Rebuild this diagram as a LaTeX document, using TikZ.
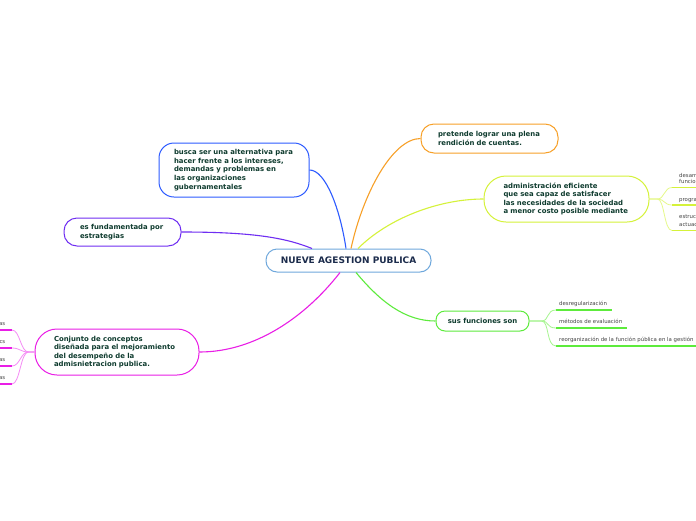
\documentclass[tikz,border=0pt]{standalone}
\usepackage{fontspec}
\setmainfont{DejaVu Sans}
\definecolor{cblue}{HTML}{2D5BFF}
\definecolor{corange}{HTML}{F7A028}
\definecolor{cyellow}{HTML}{D5F23A}
\definecolor{cyellowl}{HTML}{E6F98A}
\definecolor{cpurple}{HTML}{6F2EF2}
\definecolor{cmagenta}{HTML}{E91EE6}
\definecolor{cmagental}{HTML}{F58CF5}
\definecolor{cgreen}{HTML}{5DEB3C}
\definecolor{cgreenl}{HTML}{A6F590}
\definecolor{ccentral}{HTML}{6FA8DC}
\definecolor{nodetxt}{HTML}{0E3B2E}
\definecolor{centtxt}{HTML}{1C2C4C}
\definecolor{subtxt}{HTML}{444444}
\newcommand{\nodefont}{\fontsize{6.9}{8.6}\selectfont\bfseries}
\newcommand{\centfont}{\fontsize{9}{11}\selectfont\bfseries}
\newcommand{\subfont}{\fontsize{5.4}{6.5}\selectfont}
\tikzset{
  topic/.style={draw, line width=1pt, fill=white, text=nodetxt, font=\nodefont, align=left, inner sep=0pt},
  subtext/.style={font=\subfont, text=subtxt, inner sep=0pt},
  link/.style={line width=1.1pt},
  uline/.style={line width=1.8pt},
  thin/.style={line width=0.8pt}
}
\begin{document}
\begin{tikzpicture}[x=1pt,y=-1pt]
\fill[white] (0,0) rectangle (696,520);
\clip (0,0) rectangle (696,520);

% central
\node[draw=ccentral, line width=1pt, fill=white, rounded corners=11pt, minimum width=165pt, minimum height=23pt, inner sep=0pt, text=centtxt, font=\centfont] (c) at (348.5,260.5) {NUEVE AGESTION PUBLICA};

% main topics
\node[topic, draw=cblue, rounded corners=15pt, minimum width=150pt, minimum height=54pt, text width=120pt] (blue) at (234,170) {busca ser una alternativa para\\hacer frente a los intereses,\\demandas y problemas en\\las organizaciones\\gubernamentales};
\node[topic, draw=corange, rounded corners=13pt, minimum width=137pt, minimum height=29pt, text width=103pt] (orange) at (489.5,138.5) {pretende lograr una plena\\rendición de cuentas.};
\node[topic, draw=cyellow, rounded corners=22pt, minimum width=165pt, minimum height=46pt, text width=126pt] (yellow) at (566.5,199) {administración eficiente\\que sea capaz de satisfacer\\las necesidades de la sociedad\\a menor costo posible mediante};
\node[topic, draw=cpurple, rounded corners=13pt, minimum width=117pt, minimum height=28pt, text width=85pt] (purple) at (122.5,232) {es fundamentada por\\estrategias};
\node[topic, draw=cmagenta, rounded corners=22pt, minimum width=164pt, minimum height=46pt, text width=126pt] (magenta) at (117,352) {Conjunto de conceptos\\diseñada para el mejoramiento\\del desempeño de la\\admisnietracion publica.};
\node[topic, draw=cgreen, rounded corners=9pt, minimum width=93pt, minimum height=20pt, align=center] (green) at (482.5,321) {sus funciones son};

% main connectors
\draw[link, cblue] (blue.east) .. controls +(16,0) and +(-6,-40) .. ([xshift=-2.5]c.north);
\draw[link, corange] ([xshift=2.5]c.north) .. controls +(12,-55) and +(-28,0) .. (orange.west);
\draw[link, cyellow] ([xshift=9.5]c.north) .. controls +(30,-30) and +(-45,0) .. (yellow.west);
\draw[link, cpurple] (purple.east) .. controls +(75,0) and +(-25,-10) .. ([xshift=-36.5]c.north);
\draw[link, cmagenta] ([xshift=-8.5]c.south) .. controls +(-35,45) and +(55,0) .. (magenta.east);
\draw[link, cgreen] ([xshift=7.5]c.south) .. controls +(25,30) and +(-30,0) .. (green.west);

% green sub-topics
\node[subtext, anchor=base west] (g1) at (559,305) {desregularización};
\node[subtext, anchor=base west] (g2) at (559,323.5) {métodos de evaluación};
\node[subtext, anchor=base west] (g3) at (559,341) {reorganización de la función pública en la gestión};
\coordinate (g1s) at (556,310); \coordinate (g1e) at (612,310);
\coordinate (g2s) at (556,328); \coordinate (g2e) at (627,328);
\coordinate (g3s) at (556,346); \coordinate (g3e) at (700,346);
\draw[uline, cgreen] (g1s) -- (g1e);
\draw[uline, cgreen] (g2s) -- (g2e);
\draw[uline, cgreen] (g3s) -- (g3e);
\draw[thin, cgreenl] (green.east) -- +(12,0) .. controls +(8,0) and +(-10,0) .. (g1s);
\draw[thin, cgreenl] (green.east) -- +(12,0) .. controls +(8,0) and +(-10,0) .. (g2s);
\draw[thin, cgreenl] (green.east) -- +(12,0) .. controls +(8,0) and +(-10,0) .. (g3s);

% yellow sub-topics (cut by the edge)
\node[subtext, anchor=base west, align=left] (y1) at (679,177) {desarr};
\node[subtext, anchor=base west] (y1b) at (679,183.5) {funcio};
\node[subtext, anchor=base west] (y2) at (679,201) {progra};
\node[subtext, anchor=base west] (y3) at (679,218.5) {estruc};
\node[subtext, anchor=base west] (y3b) at (679,226) {actuac};
\coordinate (y1s) at (672,187.5); \coordinate (y1e) at (700,187.5);
\coordinate (y2s) at (672,205); \coordinate (y2e) at (700,205);
\coordinate (y3s) at (672,230.5); \coordinate (y3e) at (700,230.5);
\draw[uline, cyellow] (y1s) -- (y1e);
\draw[uline, cyellow] (y2s) -- (y2e);
\draw[uline, cyellow] (y3s) -- (y3e);
\draw[thin, cyellowl] (yellow.east) -- +(8,0) .. controls +(7,0) and +(-8,0) .. (y1s);
\draw[thin, cyellowl] (yellow.east) -- +(8,0) .. controls +(7,0) and +(-8,0) .. (y2s);
\draw[thin, cyellowl] (yellow.east) -- +(8,0) .. controls +(7,0) and +(-8,0) .. (y3s);

% magenta sub-topics (cut by the edge)
\node[subtext, anchor=base east] (m1) at (5.5,325.5) {as};
\node[subtext, anchor=base east] (m2) at (5.5,343.5) {cs};
\node[subtext, anchor=base east] (m3) at (5.5,361.5) {as};
\node[subtext, anchor=base east] (m4) at (5.5,379.5) {as};
\coordinate (m1s) at (12,330); \coordinate (m1e) at (-5,330);
\coordinate (m2s) at (12,348); \coordinate (m2e) at (-5,348);
\coordinate (m3s) at (12,366); \coordinate (m3e) at (-5,366);
\coordinate (m4s) at (12,384); \coordinate (m4e) at (-5,384);
\draw[uline, cmagenta] (m1s) -- (m1e);
\draw[uline, cmagenta] (m2s) -- (m2e);
\draw[uline, cmagenta] (m3s) -- (m3e);
\draw[uline, cmagenta] (m4s) -- (m4e);
\draw[thin, cmagental] (magenta.west) -- +(-6,0) .. controls +(-8,0) and +(8,0) .. (m1s);
\draw[thin, cmagental] (magenta.west) -- +(-6,0) .. controls +(-8,0) and +(8,0) .. (m2s);
\draw[thin, cmagental] (magenta.west) -- +(-6,0) .. controls +(-8,0) and +(8,0) .. (m3s);
\draw[thin, cmagental] (magenta.west) -- +(-6,0) .. controls +(-8,0) and +(8,0) .. (m4s);
\end{tikzpicture}
\end{document}
